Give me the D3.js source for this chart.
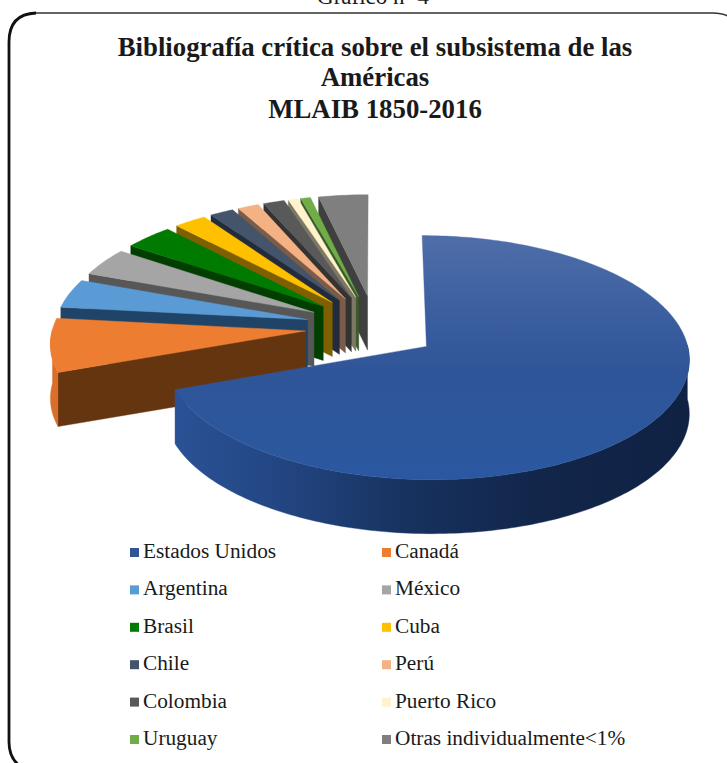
<!DOCTYPE html>
<html lang="es">
<head>
<meta charset="utf-8">
<title>Bibliografía crítica sobre el subsistema de las Américas</title>
<script src="https://cdn.jsdelivr.net/npm/d3@7/dist/d3.min.js"></script>
<style>
  html, body { margin: 0; padding: 0; background: #fff; overflow: hidden; }
  svg { display: block; }
  text { font-family: "Liberation Serif", serif; fill: #1a1a1a; }
</style>
</head>
<body>
<svg id="chart" width="727" height="763"></svg>
<script>
// Share of the critical bibliography by country (percent).
const categories = ["Estados Unidos", "Canadá", "Argentina", "México", "Brasil", "Cuba",
                    "Chile", "Perú", "Colombia", "Puerto Rico", "Uruguay", "Otras individualmente<1%"];
const shares = [69.5, 7.4, 4.0, 3.9, 3.5, 2.3, 1.7, 1.5, 1.5, 0.7, 0.7, 3.5];

const topColors = ["#2f5597", "#ed7d31", "#5b9bd5", "#a5a5a5", "#007a00", "#ffc000",
                   "#44546a", "#f4b183", "#595959", "#fff2cc", "#70ad47", "#7f7f7f"];
const sideColors = ["#1b3768", "#65350f", "#1f4468", "#575757", "#003f00", "#7f6000",
                    "#232c3c", "#7b5c48", "#333333", "#7d7766", "#38592a", "#3f3f3f"];
const outerColors = ["#1b3768", "#d96f28", "#3f79ad", "#7d7d7d", "#005800", "#bf9000",
                     "#333f50", "#c08b66", "#444444", "#bfb699", "#548235", "#5f5f5f"];
const titleLines = ["Bibliografía crítica sobre el subsistema de las", "Américas", "MLAIB 1850-2016"];

const svg = d3.select("#chart");
const defs = svg.append("defs");

// Perspective view of the pie plane: u runs to the right, v runs towards the viewer.
const view = { x0: 375, y0: 330, rx: 258, ry: 118, distance: 11, depth: 54 };
// The big slice is pulled out a little less than the fan of small ones,
// and the fan sits slightly higher with a slightly shorter radius.
const explodeBig = 0.24, explodeFan = 0.27, fanRadius = 0.98, fanLift = 3;

function project(u, v, lower, lift) {
  const s = view.distance / (view.distance - v);
  return [view.x0 + u * view.rx * s, view.y0 - (lift || 0) + v * view.ry * s + (lower ? view.depth : 0)];
}

const line = d3.line();
const slices = d3.pie().sort(null).value(d => d)(shares);

// Top face lit from the far side, outer wall darkening from left to right.
const topGrad = defs.append("linearGradient").attr("id", "usTop")
  .attr("gradientUnits", "userSpaceOnUse")
  .attr("x1", 0).attr("x2", 0).attr("y1", 236).attr("y2", 483);
[[0, "#4f6ea9"], [0.3, "#3c5fa0"], [0.55, "#2f5598"], [1, "#2a58a0"]].forEach(([o, c]) =>
  topGrad.append("stop").attr("offset", o).attr("stop-color", c));
const wallGrad = defs.append("linearGradient").attr("id", "usWall")
  .attr("gradientUnits", "userSpaceOnUse")
  .attr("x1", 173).attr("x2", 693).attr("y1", 0).attr("y2", 0);
[[0, "#2b5296"], [0.2, "#234683"], [0.45, "#17325f"], [0.7, "#12264a"], [1, "#0f2244"]].forEach(([o, c]) =>
  wallGrad.append("stop").attr("offset", o).attr("stop-color", c));

function drawSlice(slice, i) {
  const big = i === 0;
  const explode = big ? explodeBig : explodeFan;
  const radius = big ? 1 : fanRadius;
  const lift = big ? 0 : fanLift;
  const mid = (slice.startAngle + slice.endAngle) / 2;
  const cu = explode * Math.sin(mid);
  const cv = -explode * Math.cos(mid);
  const steps = Math.max(2, Math.ceil((slice.endAngle - slice.startAngle) / 0.02));
  const angles = d3.range(steps + 1).map(k => slice.startAngle + (slice.endAngle - slice.startAngle) * k / steps);
  const rim = angles.map(a => ({ a, u: cu + radius * Math.sin(a), v: cv - radius * Math.cos(a) }));

  const g = svg.append("g").attr("class", "slice").attr("data-name", categories[i]);
  const topFill = big ? "url(#usTop)" : topColors[i];
  const outerFill = big ? "url(#usWall)" : outerColors[i];

  // In the fan only the wall along the start of each slice faces the viewer.
  if (!big) {
    const first = rim[0];
    const quad = [project(cu, cv, false, lift), project(first.u, first.v, false, lift),
                  project(first.u, first.v, true, lift), project(cu, cv, true, lift)];
    g.append("path").attr("d", line(quad) + "Z")
      .attr("fill", sideColors[i]).attr("stroke", sideColors[i]).attr("stroke-width", 0.4);
  }

  // Outer wall: the part of the rim on the viewer's side.
  const front = rim.filter(p => Math.cos(p.a) < 0.02);
  if (front.length > 1) {
    const upper = front.map(p => project(p.u, p.v, false, lift));
    const lower = front.map(p => project(p.u, p.v, true, lift)).reverse();
    g.append("path").attr("d", line(upper.concat(lower)) + "Z")
      .attr("fill", outerFill).attr("stroke", outerFill).attr("stroke-width", 0.4);
  }

  const face = [project(cu, cv, false, lift)].concat(rim.map(p => project(p.u, p.v, false, lift)));
  g.append("path").attr("d", line(face) + "Z")
    .attr("fill", topFill).attr("stroke", topFill).attr("stroke-width", 0.4);
}

// Far slices first, the large nearest slice last.
d3.range(slices.length - 1, 0, -1).forEach(i => drawSlice(slices[i], i));
drawSlice(slices[0], 0);

// Caption above the frame.
svg.append("text").attr("x", 373).attr("y", 4).attr("text-anchor", "middle")
  .attr("font-size", 23).text("Gráfico nº 4");

// Rounded frame, running past the right and bottom edges of the page:
// a fine line along the top, a heavier one down the left side.
svg.append("path").attr("d", "M30,13 H713 Q728,13 735,22")
  .attr("fill", "none").attr("stroke", "#333").attr("stroke-width", 1.5);
svg.append("path").attr("d", "M36,13 Q9,14 9,42 V742 Q9,758 20,766")
  .attr("fill", "none").attr("stroke", "#111").attr("stroke-width", 2.8);

// Title block.
const titleY = [56, 86, 118];
titleLines.forEach((t, k) => {
  svg.append("text").attr("x", 375).attr("y", titleY[k]).attr("text-anchor", "middle")
    .attr("font-size", 26.8).attr("font-weight", 700).attr("fill", "#111").text(t);
});

// Two-column legend.
const legendX = d3.scalePoint().domain([0, 1]).range([130, 382]);
const legendY = d3.scalePoint().domain(d3.range(6)).range([552, 739]);
categories.forEach((name, i) => {
  const col = i % 2, row = Math.floor(i / 2);
  const item = svg.append("g").attr("transform", `translate(${legendX(col)},${legendY(row)})`);
  item.append("rect").attr("x", 0).attr("y", -4).attr("width", 9).attr("height", 9).attr("fill", topColors[i]);
  item.append("text").attr("x", 13).attr("y", 6).attr("font-size", 21.3).text(name);
});
</script>
</body>
</html>
